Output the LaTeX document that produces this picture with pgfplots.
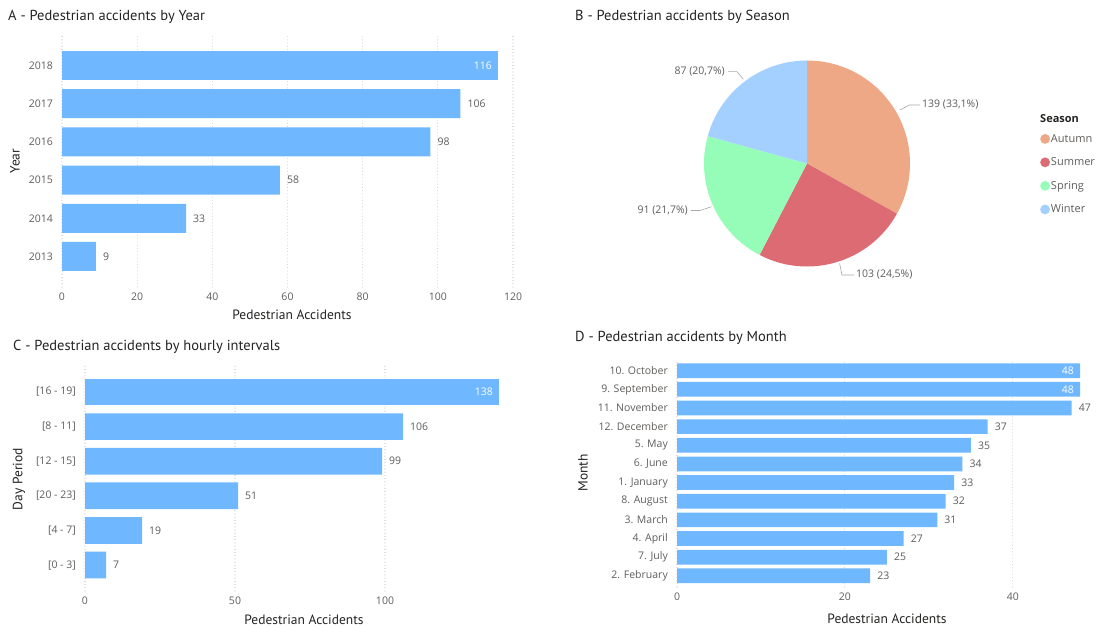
\documentclass[border=0pt]{standalone}
\usepackage{pgfplots}
\pgfplotsset{compat=1.18}
\usepackage{fontspec}
\setmainfont{Open Sans}
\newfontfamily\din{PT Sans}
\definecolor{barblue}{HTML}{6FB8FF}
\definecolor{txtgrey}{HTML}{605E5C}
\definecolor{titlecol}{HTML}{252423}
\definecolor{gridcol}{HTML}{D6D6D6}
\definecolor{autumn}{HTML}{EEA886}
\definecolor{summer}{HTML}{DD6B74}
\definecolor{spring}{HTML}{96FDB9}
\definecolor{winter}{HTML}{A3D0FF}
\definecolor{leader}{HTML}{A8A8A8}
\newcommand\ticksize{\fontsize{10.5}{12}\selectfont}
\newcommand\legsize{\fontsize{11}{13}\selectfont}
\newcommand\titlesize{\din\fontsize{14.5}{16}\selectfont}
\newcommand\axtitle{\din\fontsize{13.5}{15}\selectfont}
\pgfplotsset{
  pbibar/.style={
    scale only axis, anchor=south west, xbar, bar shift=0pt,
    axis line style={draw=none}, major tick length=0pt, tick style={draw=none},
    xmajorgrids, grid style={gridcol, line cap=round, dash pattern=on 0.01pt off 3.2pt, line width=1.1pt},
    xmin=0, point meta=x,
    tick label style={font=\ticksize, text=txtgrey},
    /pgf/number format/assume math mode=true,
    yticklabel style={anchor=east, inner sep=0pt, xshift=-9pt},
    xticklabel style={anchor=north, inner sep=0pt, yshift=-6pt},
    every node near coord/.append style={font=\ticksize, text=txtgrey, inner sep=0pt},
    clip=false,
  },
  outlab/.style={fill=barblue, draw=none, nodes near coords,
    every node near coord/.append style={anchor=west, xshift=7pt}},
  inlab/.style={fill=barblue, draw=none, nodes near coords,
    every node near coord/.append style={anchor=east, xshift=-6pt, text=white}},
}
\begin{document}
\begin{tikzpicture}
\useasboundingbox (0pt,0pt) rectangle (1100pt,-628pt);
\fill[white] (0pt,0pt) rectangle (1100pt,-628pt);

% ---------- A ----------
\begin{axis}[pbibar, at={(62pt,-287pt)}, width=451pt, height=252pt,
  xmax=120, ymin=-0.8, ymax=5.8, bar width=0.76,
  xtick={0,20,...,120}, ytick={0,...,5},
  yticklabels={2013,2014,2015,2016,2017,2018}]
\addplot[outlab] coordinates {(9,0) (33,1) (58,2) (98,3) (106,4)};
\addplot[inlab] coordinates {(116,5)};
\end{axis}

% ---------- C ----------
\begin{axis}[pbibar, at={(85pt,-591pt)}, width=414pt, height=225pt,
  xmax=138, ymin=-0.75, ymax=5.75, bar width=0.77,
  xtick={0,50,100}, ytick={0,...,5},
  yticklabels={{[0 - 3]},{[4 - 7]},{[20 - 23]},{[12 - 15]},{[8 - 11]},{[16 - 19]}}]
\addplot[outlab] coordinates {(7,0) (19,1) (51,2) (99,3) (106,4)};
\addplot[inlab] coordinates {(138,5)};
\end{axis}

% ---------- D ----------
\begin{axis}[pbibar, at={(677pt,-587pt)}, width=403pt, height=227.5pt,
  xmax=48, ymin=-0.6, ymax=11.6, bar width=0.79,
  xtick={0,20,40}, ytick={0,...,11},
  yticklabels={2. February,7. July,4. April,3. March,8. August,1. January,6. June,5. May,12. December,11. November,9. September,10. October}]
\addplot[outlab] coordinates {(23,0) (25,1) (27,2) (31,3) (32,4) (33,5) (34,6) (35,7) (37,8) (47,9)};
\addplot[inlab] coordinates {(48,10) (48,11)};
\end{axis}

% ---------- B (pie) ----------
\pgfmathsetmacro\tot{139+103+91+87}
\pgfmathsetmacro\aA{90-139/\tot*360}
\pgfmathsetmacro\aB{\aA-103/\tot*360}
\pgfmathsetmacro\aC{\aB-91/\tot*360}
\pgfmathsetmacro\aD{\aC-87/\tot*360}
\begin{axis}[at={(807pt,-163.5pt)}, anchor=center, scale only axis,
  width=206pt, height=206pt, xmin=-1, xmax=1, ymin=-1, ymax=1,
  hide axis, clip=false,
  legend image code/.code={\fill[#1, draw=none] (0pt,0pt) circle (4.9pt);},
  legend style={draw=none, fill=none, inner sep=0pt,
    at={(axis description cs:1.631,0.648)}, anchor=north west,
    font=\legsize, text=txtgrey, row sep=12pt,
    nodes={inner xsep=1pt, inner ysep=1pt}},
  legend cell align=left]
\addlegendimage{fill=autumn}\addlegendentry{Autumn}
\addlegendimage{fill=summer}\addlegendentry{Summer}
\addlegendimage{fill=spring}\addlegendentry{Spring}
\addlegendimage{fill=winter}\addlegendentry{Winter}
\fill[autumn] (axis cs:0,0) -- ++(90:103pt) arc[start angle=90, end angle=\aA, radius=103pt] -- cycle;
\fill[summer] (axis cs:0,0) -- ++(\aA:103pt) arc[start angle=\aA, end angle=\aB, radius=103pt] -- cycle;
\fill[spring] (axis cs:0,0) -- ++(\aB:103pt) arc[start angle=\aB, end angle=\aC, radius=103pt] -- cycle;
\fill[winter] (axis cs:0,0) -- ++(\aC:103pt) arc[start angle=\aC, end angle=\aD, radius=103pt] -- cycle;
\end{axis}

\begin{scope}[x=1pt, y=-1pt]
% titles
\node[anchor=base west, inner sep=0pt, font=\titlesize, text=titlecol] at (8,21) {A - Pedestrian accidents by Year};
\node[anchor=base west, inner sep=0pt, font=\titlesize, text=titlecol] at (575,21) {B - Pedestrian accidents by Season};
\node[anchor=base west, inner sep=0pt, font=\titlesize, text=titlecol] at (13,350) {C - Pedestrian accidents by hourly intervals};
\node[anchor=base west, inner sep=0pt, font=\titlesize, text=titlecol] at (575,341) {D - Pedestrian accidents by Month};
% axis titles
\node[font=\axtitle, text=titlecol, inner sep=0pt] at (292,315) {Pedestrian Accidents};
\node[font=\axtitle, text=titlecol, inner sep=0pt, rotate=90] at (15,161) {Year};
\node[font=\axtitle, text=titlecol, inner sep=0pt] at (304,620) {Pedestrian Accidents};
\node[font=\axtitle, text=titlecol, inner sep=0pt, rotate=90] at (19,479) {Day Period};
\node[font=\axtitle, text=titlecol, inner sep=0pt] at (887,619) {Pedestrian Accidents};
\node[font=\axtitle, text=titlecol, inner sep=0pt, rotate=90] at (583,473) {Month};
% pie leaders and labels
\draw[leader, line width=0.6pt] (899.8,110) -- (909.5,105) -- (919.9,105);
\node[anchor=west, inner sep=0pt, font=\ticksize, text=txtgrey] at (922,105) {139 (33,1\%)};
\draw[leader, line width=0.6pt] (839.6,263.3) -- (842,275) -- (854,275);
\node[anchor=west, inner sep=0pt, font=\ticksize, text=txtgrey] at (856,275) {103 (24,5\%)};
\draw[leader, line width=0.6pt] (711.5,206.7) -- (700,210.5) -- (690.8,210.5);
\node[anchor=east, inner sep=0pt, font=\ticksize, text=txtgrey] at (688,210.5) {91 (21,7\%)};
\draw[leader, line width=0.6pt] (743.4,79.3) -- (737,71.7) -- (727.8,71.7);
\node[anchor=east, inner sep=0pt, font=\ticksize, text=txtgrey] at (725,71.7) {87 (20,7\%)};
% legend title
\node[anchor=west, inner sep=0pt, font=\legsize\bfseries, text=titlecol] at (1040,119) {Season};
\end{scope}
\end{tikzpicture}
\end{document}
